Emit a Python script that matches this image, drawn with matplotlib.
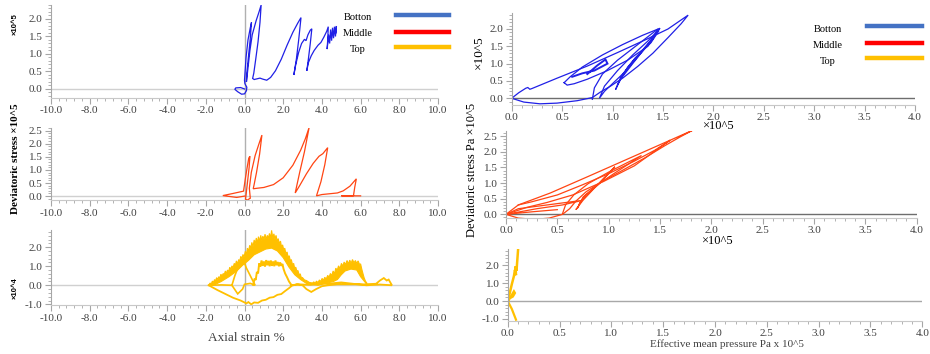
import matplotlib
matplotlib.use("Agg")
import matplotlib.pyplot as plt
from matplotlib.ticker import MultipleLocator, FormatStrFormatter
from matplotlib.lines import Line2D

plt.rcParams['font.family'] = ['Liberation Serif', 'DejaVu Serif']

BLUE = "#2020e6"
RED = "#ff4513"
YELLOW = "#ffc000"
GRAY = "#a6a6a6"
TXT = "#404040"

# axial strain (%) against deviatoric stress, bottom gauge (x10^5 Pa)
bottom_strain_q = [
    (0.00, 0.00), (-0.20, 0.04), (-0.45, 0.03), (-0.50, -0.01), (-0.35, -0.08), (-0.15, -0.15),
    (0.00, -0.14), (0.10, -0.05), (0.12, 0.05), (0.02, 0.15), (0.00, 0.25), (0.08, 0.90),
    (0.18, 1.40), (0.30, 1.75), (0.36, 1.90), (0.30, 1.45), (0.20, 0.90), (0.12, 0.45),
    (0.10, 0.20), (0.18, 0.60), (0.28, 1.10), (0.40, 1.55), (0.50, 1.75), (0.60, 1.95),
    (0.75, 2.20), (0.86, 2.40), (0.80, 1.90), (0.70, 1.35), (0.58, 0.85), (0.48, 0.45),
    (0.42, 0.30), (0.50, 0.27), (0.65, 0.29), (0.80, 0.31), (0.95, 0.28), (1.15, 0.25),
    (1.35, 0.33), (1.60, 0.52), (1.90, 0.85), (2.20, 1.25), (2.50, 1.62), (2.75, 1.88),
    (2.92, 2.04), (2.80, 1.40), (2.68, 0.85), (2.55, 0.40), (2.65, 0.70), (2.80, 1.05),
    (2.95, 1.30), (3.10, 1.42), (3.18, 1.38), (3.28, 1.55), (3.40, 1.68), (3.48, 1.72),
    (3.40, 1.30), (3.30, 0.85), (3.22, 0.52), (3.30, 0.75), (3.45, 0.95), (3.60, 1.10),
    (3.80, 1.25), (3.95, 1.33), (4.10, 1.48), (4.25, 1.65), (4.33, 1.78), (4.30, 1.40),
    (4.27, 1.14), (4.35, 1.55), (4.40, 1.30), (4.45, 1.70), (4.50, 1.38), (4.55, 1.75),
    (4.60, 1.45), (4.65, 1.78), (4.70, 1.50), (4.75, 1.80), (4.72, 1.60),
]

# axial strain (%) against deviatoric stress, middle gauge (x10^5 Pa)
middle_strain_q = [
    (0.00, 0.00), (-0.40, -0.05), (-1.12, 0.02), (-0.60, 0.10), (-0.05, 0.19), (0.05, 0.70),
    (0.15, 1.15), (0.22, 1.45), (0.28, 1.52), (0.24, 1.10), (0.15, 0.50), (0.08, 0.05),
    (0.05, -0.12), (0.15, -0.15), (0.30, -0.08), (0.25, 0.30), (0.35, 0.90), (0.55, 1.55),
    (0.75, 2.00), (0.90, 2.33), (0.78, 1.60), (0.62, 0.90), (0.50, 0.45), (0.45, 0.28),
    (0.65, 0.30), (1.00, 0.33), (1.50, 0.44), (2.00, 0.70), (2.50, 1.18), (2.90, 1.75),
    (3.15, 2.20), (3.34, 2.62), (3.10, 1.70), (2.85, 0.90), (2.62, 0.12), (2.85, 0.40),
    (3.20, 0.85), (3.55, 1.25), (3.85, 1.52), (4.05, 1.62), (4.30, 1.85), (4.15, 1.20),
    (3.95, 0.55), (3.72, 0.01), (4.00, 0.06), (4.40, 0.09), (4.80, 0.12), (5.10, 0.20),
    (5.45, 0.38), (5.78, 0.66), (5.70, 0.35), (5.63, 0.01), (5.00, 0.01), (6.00, 0.01),
]

# axial strain (%) against deviatoric stress, top gauge (x10^4 Pa), noisy record
top_hump1_upper = [
    (-1.85, 0.00), (-1.78, 0.12), (-1.72, 0.06), (-1.66, 0.22), (-1.60, 0.15), (-1.55, 0.30),
    (-1.50, 0.22), (-1.44, 0.40), (-1.38, 0.30), (-1.33, 0.45), (-1.27, 0.38), (-1.22, 0.58),
    (-1.16, 0.48), (-1.10, 0.62), (-1.05, 0.55), (-0.99, 0.75), (-0.93, 0.62), (-0.88, 0.80),
    (-0.82, 0.72), (-0.76, 0.95), (-0.70, 0.82), (-0.65, 1.02), (-0.59, 0.92), (-0.53, 1.15),
    (-0.47, 1.05), (-0.42, 1.28), (-0.36, 1.12), (-0.30, 1.35), (-0.25, 1.25), (-0.19, 1.52),
    (-0.13, 1.38), (-0.08, 1.62), (-0.02, 1.48), (0.04, 1.78), (0.10, 1.62), (0.15, 1.95),
    (0.21, 1.80), (0.27, 2.10), (0.32, 1.92), (0.38, 2.25), (0.44, 2.02), (0.50, 2.38),
    (0.55, 2.15), (0.61, 2.48), (0.67, 2.22), (0.72, 2.55), (0.78, 2.30), (0.84, 2.62),
    (0.89, 2.35), (0.95, 2.58), (1.01, 2.40), (1.06, 2.68), (1.12, 2.42), (1.18, 2.62),
    (1.23, 2.45), (1.29, 2.72), (1.35, 2.48), (1.40, 2.88), (1.46, 2.50), (1.52, 2.70),
    (1.57, 2.42), (1.63, 2.62), (1.69, 2.30), (1.74, 2.45), (1.80, 2.18), (1.86, 2.32),
    (1.91, 2.02), (1.97, 2.12), (2.03, 1.85), (2.08, 1.95), (2.14, 1.65), (2.20, 1.75),
    (2.25, 1.48), (2.31, 1.55), (2.37, 1.28), (2.42, 1.35), (2.48, 1.08), (2.54, 1.15),
    (2.59, 0.90), (2.65, 0.95), (2.71, 0.72), (2.76, 0.78), (2.82, 0.55), (2.88, 0.60),
    (2.93, 0.42), (3.00, 0.40), (3.10, 0.28), (3.20, 0.25), (3.35, 0.15), (3.50, 0.12),
]
top_hump1_lower = [
    (3.50, 0.05), (3.20, 0.10), (2.90, 0.30), (2.60, 0.55), (2.30, 0.95), (2.00, 1.45),
    (1.70, 1.80), (1.40, 1.95), (1.10, 1.90), (0.80, 1.75), (0.50, 1.60), (0.20, 1.30),
    (-0.10, 1.05), (-0.40, 0.75), (-0.80, 0.45), (-1.20, 0.20), (-1.60, 0.00), (-1.85, 0.00),
]
top_hump2_upper = [
    (3.50, 0.10), (3.58, 0.18), (3.65, 0.10), (3.72, 0.22), (3.80, 0.14), (3.87, 0.28),
    (3.94, 0.20), (4.01, 0.36), (4.08, 0.26), (4.15, 0.42), (4.22, 0.32), (4.30, 0.52),
    (4.37, 0.42), (4.44, 0.62), (4.51, 0.50), (4.58, 0.75), (4.65, 0.60), (4.72, 0.90),
    (4.79, 0.78), (4.86, 1.02), (4.94, 0.88), (5.01, 1.15), (5.08, 1.00), (5.15, 1.22),
    (5.22, 1.08), (5.30, 1.30), (5.37, 1.12), (5.44, 1.32), (5.51, 1.15), (5.58, 1.35),
    (5.66, 1.18), (5.73, 1.30), (5.80, 1.15), (5.87, 1.28), (5.94, 1.10), (6.00, 1.12),
    (6.06, 0.85), (6.12, 0.62), (6.18, 0.40), (6.25, 0.22), (6.32, 0.12),
]
top_hump2_lower = [
    (6.32, 0.05), (6.00, 0.45), (5.80, 0.80), (5.50, 0.85), (5.20, 0.75), (5.00, 0.55),
    (4.80, 0.30), (4.60, 0.20), (4.20, 0.10), (3.80, 0.00), (3.50, 0.05),
]
top_inner = [
    (0.45, 0.02), (0.52, 0.35), (0.58, 0.28), (0.64, 0.70), (0.70, 0.62), (0.76, 1.15),
    (0.82, 0.98), (0.88, 1.30), (0.94, 1.02), (1.00, 1.25), (1.06, 0.98), (1.12, 1.32),
    (1.18, 1.05), (1.24, 1.28), (1.30, 1.00), (1.36, 1.30), (1.42, 1.02), (1.48, 1.25),
    (1.54, 1.00), (1.60, 1.30), (1.66, 1.05), (1.72, 1.22), (1.78, 1.00), (1.84, 1.20),
    (1.90, 1.02), (1.96, 1.12), (2.02, 0.85), (2.10, 0.62), (2.20, 0.42), (2.30, 0.20),
    (2.40, 0.05),
]
top_near_zero = [
    (-1.85, 0.00), (-1.20, 0.02), (-0.65, 0.00), (-0.50, 0.50), (-0.35, 0.90), (-0.20, 1.20),
    (-0.05, 1.30), (0.10, 0.90), (0.25, 0.60), (0.40, 0.30), (0.55, 0.00), (0.30, 0.10),
    (0.00, 0.05), (-0.10, -0.20), (-0.35, -0.45), (-0.65, 0.00),
]
top_lower_loop = [
    (-1.85, 0.00), (-1.40, -0.25), (-1.00, -0.45), (-0.60, -0.65), (-0.20, -0.80),
    (0.10, -0.95), (0.20, -0.88), (0.35, -1.00), (0.50, -0.90), (0.70, -0.92), (0.90, -0.80),
    (1.10, -0.76), (1.30, -0.65), (1.50, -0.62), (1.70, -0.50), (1.90, -0.46), (2.10, -0.30),
    (2.30, -0.15), (2.45, -0.02), (2.70, 0.05), (3.00, 0.00), (3.20, -0.20), (3.45, -0.35),
    (3.70, -0.20), (4.00, -0.05), (4.30, 0.00), (4.80, 0.05), (5.40, 0.05), (6.20, 0.05),
    (6.80, 0.08), (7.00, 0.25), (7.20, 0.38), (7.35, 0.25), (7.45, 0.30), (7.62, 0.00),
    (7.00, 0.04), (6.30, 0.00), (5.60, 0.08), (5.00, 0.15), (4.50, 0.10), (4.00, 0.08),
    (3.40, 0.02), (2.80, 0.05), (2.40, 0.00),
]

# effective mean pressure p against deviatoric stress q (both x10^5 Pa)
bottom_pq = [
    (0.00, 0.00), (0.07, 0.16), (0.14, 0.29), (0.16, 0.31), (0.18, 0.26), (0.20, 0.28),
    (0.45, 0.58), (0.75, 0.93), (1.05, 1.32), (1.35, 1.72), (1.55, 2.00), (1.75, 2.40),
    (1.68, 2.15), (1.55, 1.75), (1.40, 1.30), (1.25, 0.92), (1.10, 0.58), (0.98, 0.35),
    (0.88, 0.18), (0.80, 0.02), (0.65, -0.07), (0.45, -0.14), (0.28, -0.16), (0.12, -0.11),
    (0.00, 0.00),
]
bottom_pq_spikes = [
    (0.80, -0.03), (0.82, 0.30), (0.90, 0.70), (1.05, 1.10), (1.25, 1.55), (1.45, 2.00),
    (1.40, 1.70), (1.25, 1.20), (1.10, 0.70), (0.92, 0.20), (0.87, 0.00), (0.92, 0.35),
    (1.05, 0.80), (1.20, 1.25), (1.35, 1.65), (1.47, 2.02), (1.35, 1.55), (1.20, 1.00),
    (1.08, 0.55), (1.03, 0.25), (1.08, 0.60), (1.22, 1.15), (1.38, 1.60), (1.46, 1.95),
    (1.30, 1.40), (1.15, 0.90), (1.05, 0.40),
]
bottom_pq_inner = [
    (0.52, 0.45), (0.55, 0.38), (0.62, 0.42), (0.75, 0.55), (0.95, 0.80), (1.15, 1.10),
    (1.35, 1.50), (1.47, 2.02), (1.30, 1.82), (1.10, 1.55), (0.90, 1.25), (0.70, 0.90),
    (0.58, 0.62), (0.52, 0.45),
]
bottom_pq_small = [
    (0.60, 0.62), (0.70, 0.72), (0.82, 0.80), (0.95, 1.00), (0.93, 1.12), (0.85, 0.95),
    (0.75, 0.70),
]
middle_pq = [
    (0.00, 0.00), (0.12, 0.30), (0.43, 0.68), (0.80, 1.21), (1.20, 1.79), (1.60, 2.37),
    (1.82, 2.69), (1.70, 2.48), (1.55, 2.20), (1.35, 1.80), (1.12, 1.38), (0.92, 1.02),
    (0.78, 0.72), (0.68, 0.42), (0.62, 0.18), (0.55, 0.00), (0.42, -0.12), (0.28, -0.16),
    (0.12, -0.12), (0.00, 0.00),
]
middle_pq_loop1 = [
    (0.00, 0.00), (0.20, 0.22), (0.40, 0.38), (0.65, 0.62), (0.95, 1.05), (1.25, 1.55),
    (1.60, 2.37), (1.45, 2.05), (1.25, 1.70), (1.00, 1.30), (0.75, 0.95), (0.50, 0.62),
    (0.25, 0.40), (0.12, 0.30),
]
middle_pq_loop2 = [
    (0.55, 0.02), (0.58, 0.30), (0.66, 0.62), (0.80, 0.98), (1.00, 1.35), (1.18, 1.65),
    (1.32, 1.88), (1.20, 1.62), (1.05, 1.30), (0.88, 0.92), (0.75, 0.55), (0.70, 0.22),
    (0.68, 0.15), (0.75, 0.45), (0.85, 0.80), (0.95, 1.15), (1.06, 1.52), (1.00, 1.30),
    (0.90, 0.95), (0.78, 0.62), (0.72, 0.38), (0.70, 0.22),
]
middle_pq_fan = [
    (0.00, 0.00), (0.30, 0.18), (0.55, 0.30), (0.75, 0.45), (0.40, 0.30), (0.12, 0.18),
    (0.00, 0.00), (0.25, 0.08), (0.50, 0.15),
]
top_pq = [
    (0.00, 0.00), (0.02, 0.45), (0.04, 0.95), (0.06, 1.40), (0.07, 1.75), (0.08, 1.45),
    (0.075, 1.95), (0.085, 1.70), (0.10, 2.87),
]
top_pq_low = [
    (0.00, 0.00), (0.04, 0.35), (0.06, 0.55), (0.07, 0.45), (0.05, 0.25), (0.02, 0.15),
    (0.00, 0.00), (0.04, -0.45), (0.08, -1.05),
]

legend_names = ["Botton", "Middle", "Top"]
legend_colors = ["#4472c4", "#ff0000", "#ffc000"]

W, H = 930, 354


def box(x0, y0, x1, y1):
    return [x0 / W, 1 - y1 / H, (x1 - x0) / W, (y1 - y0) / H]


def trace(ax, pts, color, lw=0.9):
    xs, ys = zip(*pts)
    ax.plot(xs, ys, color=color, lw=lw, solid_joinstyle="miter")


def band(ax, upper, lower, color):
    xs = [p[0] for p in upper] + [p[0] for p in lower]
    ys = [p[1] for p in upper] + [p[1] for p in lower]
    ax.fill(xs, ys, color=color, lw=0.8, ec=color)


def style(ax, xlim, ylim, xmaj, xmin, ymaj, ymin, zero_color):
    ax.set_xlim(*xlim)
    ax.set_ylim(*ylim)
    for s in ["top", "right"]:
        ax.spines[s].set_visible(False)
    ax.spines["left"].set_color(GRAY)
    ax.spines["bottom"].set_color("#c8c8c8")
    ax.xaxis.set_major_locator(MultipleLocator(xmaj))
    ax.xaxis.set_minor_locator(MultipleLocator(xmin))
    ax.yaxis.set_major_locator(MultipleLocator(ymaj))
    ax.yaxis.set_minor_locator(MultipleLocator(ymin))
    ax.xaxis.set_major_formatter(FormatStrFormatter("%.1f"))
    ax.yaxis.set_major_formatter(FormatStrFormatter("%.1f"))
    ax.tick_params(which="major", length=4, color=GRAY, labelsize=8, labelcolor=TXT, pad=2)
    ax.tick_params(which="minor", length=2, color=GRAY)
    ax.axhline(0, color=zero_color, lw=1.0, zorder=1)
    ax.patch.set_alpha(0)


fig = plt.figure(figsize=(W / 100, H / 100), dpi=100)

# axial strain panels
ax1 = fig.add_axes(box(51, 5, 438, 97.7))
ax2 = fig.add_axes(box(51, 128, 438, 200.3))
ax3 = fig.add_axes(box(51, 230, 438, 305.3))
for ax, yl, ym in [(ax1, (-0.25, 2.4), 0.5), (ax2, (-0.16, 2.6), 0.5), (ax3, (-1.05, 2.9), 1.0)]:
    style(ax, (-10, 10), yl, 2.0, 0.4, ym, 0.1 if ym == 0.5 else 0.2, "#d0d0d0")
    ax.axvline(0, color="#b0b0b0", lw=1.0, zorder=1)

trace(ax1, bottom_strain_q, BLUE)
trace(ax2, middle_strain_q, RED)
band(ax3, top_hump1_upper, top_hump1_lower, YELLOW)
band(ax3, top_hump2_upper, top_hump2_lower, YELLOW)
trace(ax3, top_inner, YELLOW, lw=1.4)
trace(ax3, top_near_zero, YELLOW, lw=1.2)
trace(ax3, top_lower_loop, YELLOW, lw=1.3)

# p-q panels
ax4 = fig.add_axes(box(511.7, 13.4, 915, 104.5))
ax5 = fig.add_axes(box(506, 131.4, 916.7, 218.1))
ax6 = fig.add_axes(box(507.7, 249.4, 922.3, 320.6))
style(ax4, (0, 4.0), (-0.18, 2.45), 0.5, 0.1, 0.5, 0.1, "#6e6e6e")
style(ax5, (0, 4.0), (-0.12, 2.65), 0.5, 0.1, 0.5, 0.1, "#6e6e6e")
style(ax6, (0, 4.0), (-1.1, 2.9), 0.5, 0.1, 1.0, 0.2, "#a8a8a8")

trace(ax4, bottom_pq, BLUE)
trace(ax4, bottom_pq_spikes, BLUE)
trace(ax4, bottom_pq_inner, BLUE)
trace(ax4, bottom_pq_small, BLUE, lw=1.4)
trace(ax5, middle_pq, RED)
trace(ax5, middle_pq_loop1, RED)
trace(ax5, middle_pq_loop2, RED)
trace(ax5, middle_pq_fan, RED)
trace(ax6, top_pq, YELLOW, lw=1.8)
trace(ax6, top_pq_low, YELLOW, lw=1.6)

# axis titles
fig.text(15 / W, 1 - 24 / H, "×10^5", rotation=90, ha="center", va="center",
         fontsize=5.5, fontweight="bold", family=["Liberation Sans", "DejaVu Sans"])
fig.text(16 / W, 1 - 159 / H, "Deviatoric stress ×10^5", rotation=90, ha="center",
         va="center", fontsize=8, fontweight="bold")
fig.text(15 / W, 1 - 288 / H, "×10^4", rotation=90, ha="center", va="center",
         fontsize=5.5, fontweight="bold", family=["Liberation Sans", "DejaVu Sans"])
fig.text(246 / W, 1 - 338 / H, "Axial strain %", ha="center", va="center",
         fontsize=9.5, color=TXT)

fig.text(479 / W, 1 - 52 / H, "×10^5", rotation=90, ha="center", va="center", fontsize=9.5)
fig.text(472 / W, 1 - 170 / H, "Deviatoric stress Pa ×10^5", rotation=90, ha="center",
         va="center", fontsize=9)
fig.text(718 / W, 1 - 126 / H, "×10^5", ha="center", va="center", fontsize=9)
fig.text(717 / W, 1 - 241 / H, "×10^5", ha="center", va="center", fontsize=9)
fig.text(727 / W, 1 - 344 / H, "Effective mean pressure Pa x 10^5", ha="center",
         va="center", fontsize=8, color=TXT)

# legends drawn as labels with colour bars
for (tx, lx0, lx1, ys, dy) in [(358, 396, 449, [15, 32, 47], 2),
                               (828, 867, 922, [26, 43, 58], 3)]:
    for name, col, y in zip(legend_names, legend_colors, ys):
        fig.text(tx / W, 1 - (y + dy) / H, name, ha="center", va="center", fontsize=7.5)
        fig.add_artist(Line2D([lx0 / W, lx1 / W], [1 - y / H, 1 - y / H], color=col, lw=3.2))

fig.savefig("out.png", dpi=100)
